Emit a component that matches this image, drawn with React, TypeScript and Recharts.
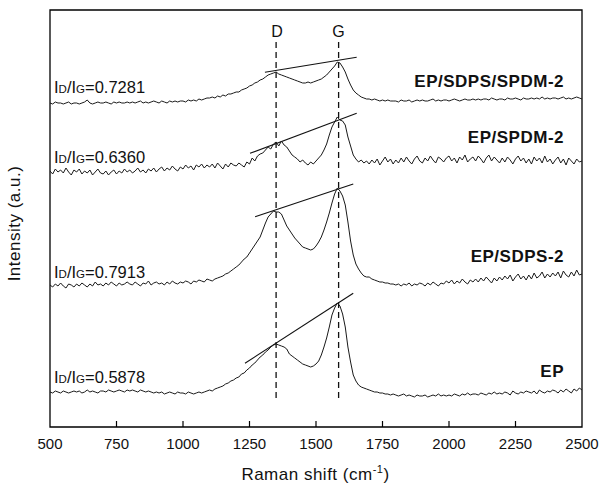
import React from 'react';
import { LineChart, Line, XAxis, YAxis, ReferenceLine, ReferenceArea } from 'recharts';

const FONT = '"Liberation Sans", Arial, Helvetica, sans-serif';

const SHIFT_START = 500;
const SHIFT_STEP = 10;
const xTicks = [500, 750, 1000, 1250, 1500, 1750, 2000, 2250, 2500];
const peakD = 1350;
const peakG = 1585;

// EP/SDPS/SPDM-2 (top trace)
const epSdpsSpdm = [
  324,323,325,324,324,323,324,325,323,324,
  324,323,324,325,327,324,323,324,325,324,
  324,325,324,323,325,324,325,324,324,325,
  324,325,324,325,326,324,325,324,325,326,
  325,324,326,325,324,326,325,326,325,326,
  326,325,327,326,327,326,328,327,328,329,
  329,330,329,331,330,332,331,333,333,334,
  335,335,337,338,339,341,342,344,345,347,
  348,350,352,353,354,355,353,352,351,350,
  349,348,347,346,345,344,344,345,344,345,
  346,347,348,350,352,355,358,361,365,364,
  360,355,348,342,337,334,332,330,329,328,
  328,327,328,327,326,327,326,327,326,326,
  326,325,327,326,326,327,325,326,327,326,
  327,326,326,327,328,326,327,326,327,327,
  326,327,328,327,326,327,328,327,327,328,
  327,328,327,328,328,327,329,328,327,328,
  328,327,329,328,328,329,328,327,329,328,
  328,329,328,329,328,330,328,329,328,329,
  329,328,329,330,328,329,328,329,330,329,
  328,
];

// EP/SPDM-2
const epSpdm = [
  256,253,258,255,257,254,259,255,252,257,
  255,258,253,256,254,257,252,255,258,254,
  253,256,252,255,257,253,256,254,258,255,
  257,254,256,259,255,257,254,258,256,259,
  255,258,260,256,259,257,261,258,256,260,
  258,262,259,261,257,262,260,263,259,262,
  260,263,259,264,261,258,263,260,264,262,
  261,264,262,260,265,263,269,266,271,273,
  274,277,280,278,283,285,281,286,282,280,
  276,272,270,268,265,267,264,262,265,263,
  266,269,272,277,283,292,300,305,310,307,
  306,302,290,281,272,268,265,267,264,266,
  263,267,264,268,262,266,270,265,268,263,
  267,264,269,265,270,266,263,268,271,266,
  264,269,266,271,267,264,270,268,265,269,
  271,266,269,264,270,267,272,265,268,270,
  266,271,268,264,269,272,266,270,267,264,
  269,265,270,267,263,268,271,266,269,264,
  268,263,270,266,269,264,271,265,268,263,
  267,270,264,268,262,269,266,263,268,265,
  266,
];

// EP/SDPS-2
const epSdps = [
  142,140,143,141,144,141,139,143,142,140,
  143,141,144,142,140,143,141,145,142,143,
  141,144,142,145,143,141,144,142,143,145,
  143,142,145,143,141,144,143,146,142,144,
  145,143,144,142,145,143,146,144,143,145,
  144,146,145,143,146,145,147,146,145,148,
  147,146,148,149,150,151,153,154,156,158,
  160,162,165,168,170,174,178,182,186,190,
  197,204,210,213,216,215,215,213,207,201,
  197,193,189,186,183,180,179,178,177,178,
  181,185,190,197,205,214,224,233,239,236,
  231,222,205,186,172,163,158,154,151,150,
  150,148,147,146,145,145,144,144,143,143,
  142,143,141,143,142,144,141,143,142,144,
  143,141,144,142,145,143,141,144,143,146,
  144,147,143,146,144,148,145,143,147,145,
  148,145,149,146,150,147,144,149,146,150,
  147,151,148,152,146,150,153,148,151,147,
  152,148,154,149,151,155,149,153,150,154,
  151,155,149,156,152,150,155,151,157,152,
  153,
];

// EP (bottom trace)
const ep = [
  35,34,36,35,34,36,35,34,35,36,
  35,36,34,35,37,35,36,35,34,36,
  36,35,37,36,35,36,37,36,35,37,
  36,37,36,35,37,36,35,36,35,34,
  35,34,35,33,34,35,34,33,35,34,
  34,33,35,34,33,34,35,34,35,36,
  37,36,38,39,40,41,43,44,46,47,
  49,50,53,54,57,59,62,64,67,70,
  72,75,77,80,82,83,82,81,80,78,
  73,71,69,67,65,63,62,61,60,61,
  63,66,72,80,89,100,112,119,124,121,
  113,100,80,65,52,46,42,40,39,38,
  37,36,35,35,34,34,33,33,32,33,
  32,31,32,33,31,32,31,30,32,31,
  31,32,30,31,32,31,33,31,32,31,
  32,31,33,32,31,33,32,34,32,33,
  33,32,34,33,32,34,33,35,33,34,
  33,35,34,32,36,34,33,35,34,36,
  35,34,36,33,37,35,34,36,35,37,
  36,34,37,35,38,36,34,38,36,39,
  37,
];

const seriesKeys = ['s1', 's2', 's3', 's4'];
const seriesNames = ['EP/SDPS/SPDM-2', 'EP/SPDM-2', 'EP/SDPS-2', 'EP'];
const ratios = ['0.7281', '0.6360', '0.7913', '0.5878'];

// tangent lines through D and G peaks (shift, intensity)
const tangentStart = [[1308, 354.7], [1252, 273.7], [1271, 210.3], [1233, 63.7]];
const tangentEnd = [[1653, 369.7], [1653, 313.7], [1640, 243], [1640, 133.7]];

const rows = ep.map((_, i) => ({
  shift: SHIFT_START + i * SHIFT_STEP,
  s1: epSdpsSpdm[i],
  s2: epSpdm[i],
  s3: epSdps[i],
  s4: ep[i],
}));

const ratioBaselines = [93.3, 163, 278, 383];
const nameBaselines = [87, 143, 262, 377];

export default function App() {
  return (
    <div style={{ position: 'absolute', left: 0, top: 0, width: 599, height: 486, background: '#fff' }}>
      <LineChart
        width={599}
        height={486}
        data={rows}
        margin={{ top: 10, right: 17, bottom: 29, left: 50 }}
      >
        <XAxis
          dataKey="shift"
          type="number"
          domain={[500, 2500]}
          ticks={xTicks}
          tickLine={false}
          axisLine={false}
          tickSize={6}
          tickMargin={5}
          height={30}
          tick={{ fill: '#111', fontSize: 15, fontFamily: FONT }}
          allowDataOverflow
        />
        <YAxis type="number" domain={[0, 417]} hide allowDataOverflow />
        <ReferenceArea
          x1={500}
          x2={2500}
          y1={0}
          y2={417}
          fill="none"
          fillOpacity={0}
          stroke="#000"
          strokeWidth={1.3}
          ifOverflow="visible"
        />
        {xTicks.slice(1, -1).map((t) => (
          <ReferenceLine
            key={'tk' + t}
            segment={[{ x: t, y: 0 }, { x: t, y: 6 }]}
            stroke="#000"
            strokeWidth={1.2}
          />
        ))}
        <ReferenceLine
          segment={[{ x: peakD, y: 29 }, { x: peakD, y: 385 }]}
          stroke="#111"
          strokeWidth={1.3}
          strokeDasharray="6 4"
        />
        <ReferenceLine
          segment={[{ x: peakG, y: 29 }, { x: peakG, y: 385 }]}
          stroke="#111"
          strokeWidth={1.3}
          strokeDasharray="6 4"
        />
        {tangentStart.map((s, i) => (
          <ReferenceLine
            key={'tg' + i}
            segment={[{ x: s[0], y: s[1] }, { x: tangentEnd[i][0], y: tangentEnd[i][1] }]}
            stroke="#111"
            strokeWidth={1.1}
          />
        ))}
        {seriesKeys.map((k) => (
          <Line
            key={k}
            dataKey={k}
            type="linear"
            stroke="#1a1a1a"
            strokeWidth={1}
            dot={false}
            isAnimationActive={false}
          />
        ))}
      </LineChart>
      <svg
        width={599}
        height={486}
        style={{ position: 'absolute', left: 0, top: 0, pointerEvents: 'none' }}
        fontFamily={FONT}
      >
        <text x={277} y={36.7} fontSize={16} textAnchor="middle" fill="#111">D</text>
        <text x={338.5} y={37} fontSize={16} textAnchor="middle" fill="#111">G</text>
        {ratios.map((r, i) => (
          <text key={'r' + i} x={54} y={ratioBaselines[i]} fontSize={16.5} fill="#111">
            I<tspan fontSize={11.5}>D</tspan>/I<tspan fontSize={11.5}>G</tspan>={r}
          </text>
        ))}
        {seriesNames.map((n, i) => (
          <text
            key={'n' + i}
            x={564}
            y={nameBaselines[i]}
            fontSize={17}
            fontWeight="bold"
            textAnchor="end"
            letterSpacing={0.5}
            fill="#111"
          >
            {n}
          </text>
        ))}
        <text
          x={19.5}
          y={223.5}
          fontSize={17}
          textAnchor="middle"
          transform="rotate(-90, 19.5, 223.5)"
          fill="#111"
          letterSpacing={0.5}
        >
          Intensity (a.u.)
        </text>
        <text x={315.5} y={480} fontSize={17} textAnchor="middle" fill="#111" letterSpacing={0.5}>
          Raman shift (cm<tspan fontSize={11} dy={-7}>-1</tspan><tspan dy={7}>)</tspan>
        </text>
      </svg>
    </div>
  );
}
